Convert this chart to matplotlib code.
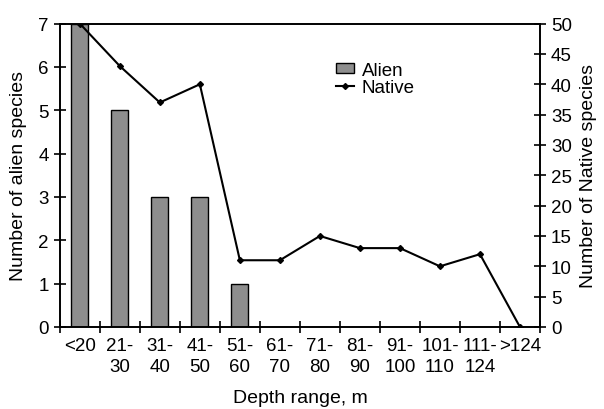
import numpy as np
import matplotlib
matplotlib.use('Agg')
import matplotlib.pyplot as plt

plt.rcParams['font.family'] = ['Liberation Sans', 'DejaVu Sans']

# Data
cats = ['<20', '21-\n30', '31-\n40', '41-\n50', '51-\n60', '61-\n70', '71-\n80',
        '81-\n90', '91-\n100', '101-\n110', '111-\n124', '>124']
alien = [7, 5, 3, 3, 1, 0, 0, 0, 0, 0, 0, 0]
native = [50, 43, 37, 40, 11, 11, 15, 13, 13, 10, 12, 0]

x = np.arange(len(cats))

fig = plt.figure(figsize=(6.04, 4.10), dpi=100)
ax1 = fig.add_axes([0.099, 0.2, 0.795, 0.74])
ax2 = ax1.twinx()

# Bars (alien)
bars = ax1.bar(x, alien, width=0.43, color='#8e8e8e', edgecolor='black',
               linewidth=1.0, label='Alien', zorder=2)
# Line (native)
ln, = ax2.plot(x, native, '-', color='black', lw=1.5, marker='D', ms=3,
               label='Native', zorder=3)

ax1.set_xlim(-0.5, len(cats) - 0.5)
ax1.set_ylim(0, 7)
ax2.set_ylim(0, 50)

ax1.set_yticks(range(0, 8))
ax2.set_yticks(range(0, 51, 5))

# category boundary ticks on x
ax1.set_xticks(np.arange(-0.5, len(cats), 1.0))
ax1.set_xticklabels([])
ax1.set_xticks(x, minor=True)
ax1.set_xticklabels(cats, minor=True, fontsize=13.5, linespacing=1.3)
ax1.tick_params(axis='x', which='minor', length=0, pad=7)
ax1.tick_params(axis='x', which='major', direction='inout', length=8, width=1.2)
ax1.tick_params(axis='y', direction='inout', length=8, width=1.2, labelsize=13.5, pad=4)
ax2.tick_params(axis='y', direction='inout', length=8, width=1.2, labelsize=13.5, pad=4)

for a in (ax1, ax2):
    for s in a.spines.values():
        s.set_linewidth(1.2)

ax1.set_ylabel('Number of alien species', fontsize=14, labelpad=8)
ax2.set_ylabel('Number of Native species', fontsize=14, labelpad=6)
ax1.set_xlabel('Depth range, m', fontsize=14, labelpad=10)

fig.legend([bars, ln], ['Alien', 'Native'], loc='upper left',
           bbox_to_anchor=(0.54, 0.87), frameon=False, fontsize=13.5,
           handlelength=1.0, handleheight=0.5, labelspacing=0.0,
           handletextpad=0.4, borderpad=0)

fig.savefig('out.png', dpi=100)
